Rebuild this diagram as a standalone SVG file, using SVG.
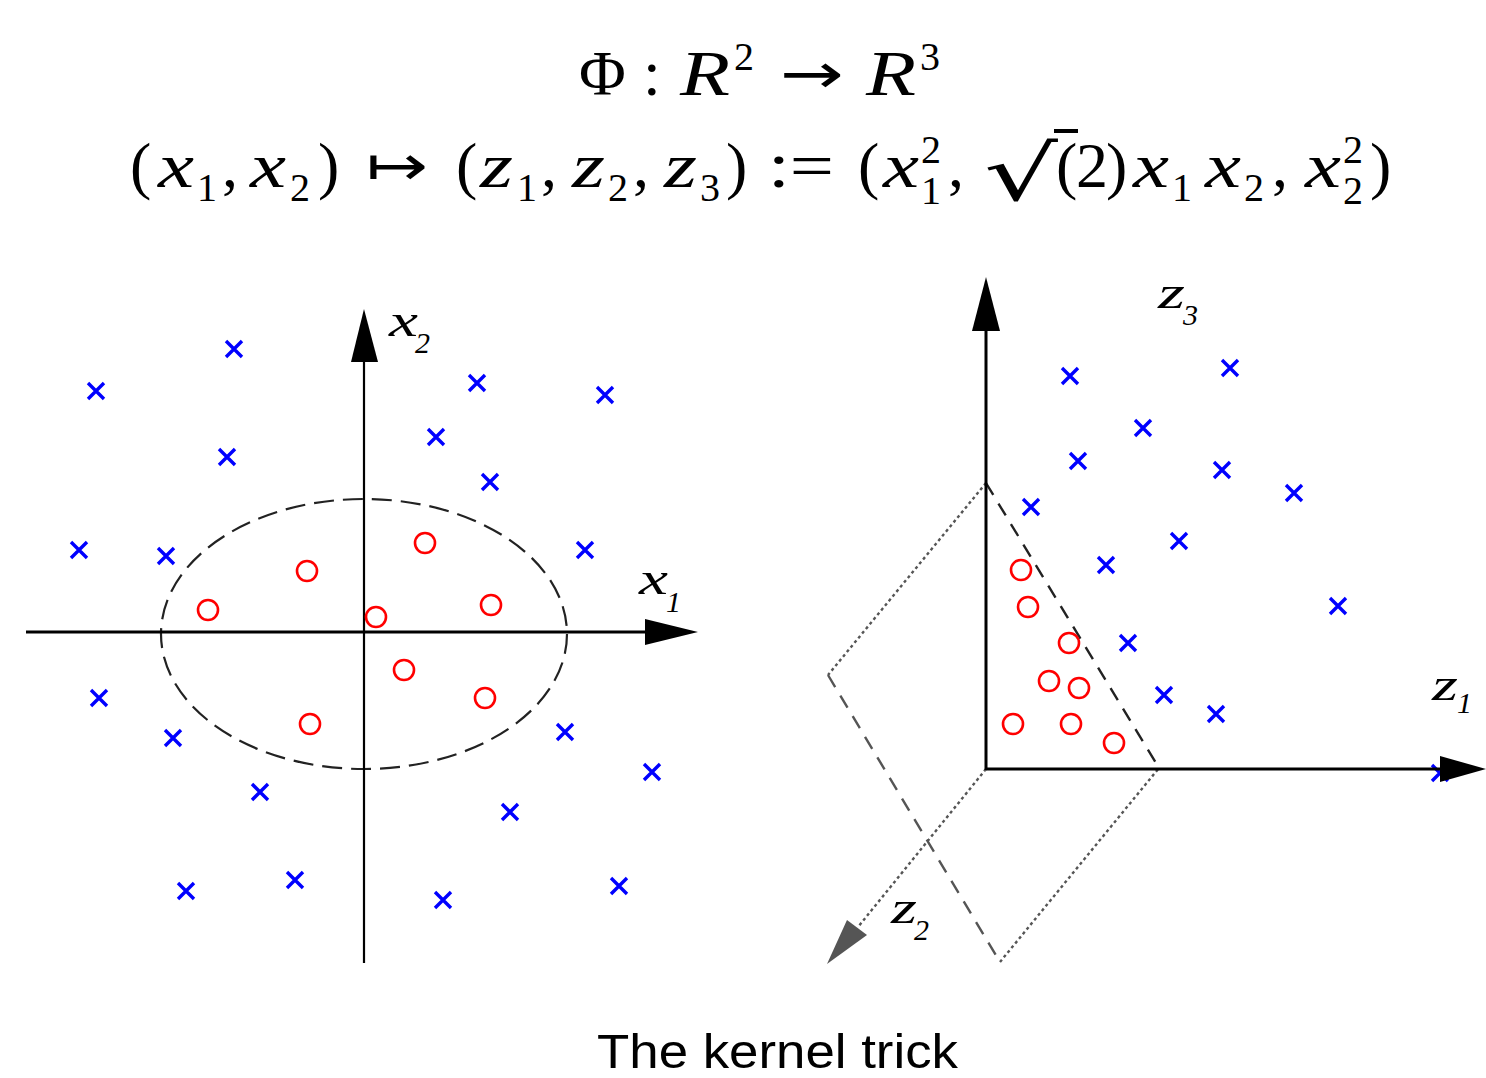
<svg xmlns="http://www.w3.org/2000/svg" xmlns:xlink="http://www.w3.org/1999/xlink" width="1486" height="1078" viewBox="0 0 1486 1078">
<style>
.m{font-family:"Liberation Serif","DejaVu Serif",serif;font-size:64px;fill:#000}
.i{font-style:italic}
.s{font-family:"Liberation Serif","DejaVu Serif",serif;font-size:40px;fill:#000}
.sym{font-family:"DejaVu Sans","Liberation Serif",serif;fill:#000}
.ax{font-family:"Liberation Serif","DejaVu Serif",serif;font-style:italic;fill:#000}
.cap{font-family:"Liberation Sans",Arial,sans-serif;font-size:48px;fill:#000}
.blue{stroke:#0000ff;stroke-width:3.4;fill:none}
.red{stroke:#ff0000;stroke-width:2.6;fill:none}
.axis{stroke:#000;fill:none}
.dot{stroke:#555;stroke-width:2.4;stroke-dasharray:3 3;fill:none}
</style>
<defs>
<path id="x" d="M-8,-8 L8,8 M-8,8 L8,-8" class="blue"/>
<circle id="o" r="10" class="red"/>
</defs>

<g id="formula">
<text class="m" x="579" y="95">Φ</text>
<text class="m" x="643" y="95">:</text>
<text class="m i" x="680" y="95" textLength="50" lengthAdjust="spacingAndGlyphs">R</text>
<text class="s" x="734" y="70">2</text>
<text class="sym" x="780" y="93" font-size="56" textLength="64" lengthAdjust="spacingAndGlyphs">→</text>
<text class="m i" x="866" y="95" textLength="50" lengthAdjust="spacingAndGlyphs">R</text>
<text class="s" x="920" y="70">3</text>

<text class="m" x="130" y="187">(</text>
<text class="m i" x="158" y="187" textLength="36" lengthAdjust="spacingAndGlyphs">x</text>
<text class="s" x="197" y="201">1</text>
<text class="m" x="222" y="187">,</text>
<text class="m i" x="250" y="187" textLength="36" lengthAdjust="spacingAndGlyphs">x</text>
<text class="s" x="290" y="201">2</text>
<text class="m" x="318" y="187">)</text>
<text class="sym" x="366" y="185" font-size="56" textLength="62" lengthAdjust="spacingAndGlyphs">↦</text>
<text class="m" x="456" y="187">(</text>
<text class="m i" x="480" y="187" textLength="33" lengthAdjust="spacingAndGlyphs">z</text>
<text class="s" x="517" y="201">1</text>
<text class="m" x="541" y="187">,</text>
<text class="m i" x="572" y="187" textLength="33" lengthAdjust="spacingAndGlyphs">z</text>
<text class="s" x="608" y="201">2</text>
<text class="m" x="633" y="187">,</text>
<text class="m i" x="664" y="187" textLength="33" lengthAdjust="spacingAndGlyphs">z</text>
<text class="s" x="700" y="201">3</text>
<text class="m" x="726" y="187">)</text>
<text class="m" x="768" y="187" textLength="66" lengthAdjust="spacingAndGlyphs">:=</text>
<text class="m" x="858" y="187">(</text>
<text class="m i" x="883" y="187" textLength="36" lengthAdjust="spacingAndGlyphs">x</text>
<text class="s" x="921" y="163">2</text>
<text class="s" x="921" y="204">1</text>
<text class="m" x="948" y="187">,</text>
<text class="sym" x="984" y="200" font-size="76" textLength="74" lengthAdjust="spacingAndGlyphs">√</text>
<line x1="1054" y1="131" x2="1078" y2="131" stroke="#000" stroke-width="4"/>
<text class="m" x="1056" y="187">(</text>
<text class="m" x="1076" y="187">2</text>
<text class="m" x="1106" y="187">)</text>
<text class="m i" x="1133" y="187" textLength="36" lengthAdjust="spacingAndGlyphs">x</text>
<text class="s" x="1172" y="201">1</text>
<text class="m i" x="1205" y="187" textLength="36" lengthAdjust="spacingAndGlyphs">x</text>
<text class="s" x="1244" y="201">2</text>
<text class="m" x="1272" y="187">,</text>
<text class="m i" x="1305" y="187" textLength="36" lengthAdjust="spacingAndGlyphs">x</text>
<text class="s" x="1343" y="163">2</text>
<text class="s" x="1343" y="204">2</text>
<text class="m" x="1370" y="187">)</text>
</g>

<g id="left-plot">
<ellipse cx="364" cy="634" rx="203" ry="135" fill="none" stroke="#222" stroke-width="2.2" stroke-dasharray="20 9"/>
<line class="axis" x1="26" y1="632" x2="648" y2="632" stroke-width="3"/>
<polygon points="645,619 698,632 645,645" fill="#000"/>
<line class="axis" x1="364" y1="963" x2="364" y2="358" stroke-width="2.2"/>
<polygon points="351,362 364,309 378,362" fill="#000"/>
<text class="ax" x="389" y="336" font-size="46" textLength="29" lengthAdjust="spacingAndGlyphs">x</text>
<text class="ax" x="415" y="353" font-size="30" font-style="normal">2</text>
<text class="ax" x="639" y="594" font-size="46" textLength="29" lengthAdjust="spacingAndGlyphs">x</text>
<text class="ax" x="666" y="612" font-size="30">1</text>
<g id="left-x">
<use href="#x" x="234" y="349"/><use href="#x" x="96" y="391"/><use href="#x" x="477" y="383"/><use href="#x" x="605" y="395"/>
<use href="#x" x="436" y="437"/><use href="#x" x="227" y="457"/><use href="#x" x="490" y="482"/><use href="#x" x="79" y="550"/>
<use href="#x" x="166" y="556"/><use href="#x" x="585" y="550"/><use href="#x" x="99" y="698"/><use href="#x" x="173" y="738"/>
<use href="#x" x="565" y="732"/><use href="#x" x="652" y="772"/><use href="#x" x="260" y="792"/><use href="#x" x="510" y="812"/>
<use href="#x" x="186" y="891"/><use href="#x" x="295" y="880"/><use href="#x" x="443" y="900"/><use href="#x" x="619" y="886"/>
</g>
<g id="left-o">
<use href="#o" x="307" y="571"/><use href="#o" x="425" y="543"/><use href="#o" x="208" y="610"/><use href="#o" x="376" y="617"/>
<use href="#o" x="491" y="605"/><use href="#o" x="404" y="670"/><use href="#o" x="485" y="698"/><use href="#o" x="310" y="724"/>
</g>
</g>

<g id="right-plot">
<g id="plane">
<line class="dot" x1="986" y1="483" x2="828" y2="675"/>
<line x1="828" y1="675" x2="1000" y2="962" stroke="#555" stroke-width="2.4" stroke-dasharray="14 10"/>
<line class="dot" x1="1000" y1="962" x2="1159" y2="768"/>
<line x1="986" y1="483" x2="1159" y2="768" stroke="#222" stroke-width="2.4" stroke-dasharray="14 10"/>
</g>
<line class="dot" x1="986" y1="769" x2="858" y2="927"/>
<polygon points="827,964 847,920 867,935" fill="#555"/>
<g id="right-x">
<use href="#x" x="1070" y="376"/><use href="#x" x="1230" y="368"/><use href="#x" x="1143" y="428"/><use href="#x" x="1078" y="461"/>
<use href="#x" x="1222" y="470"/><use href="#x" x="1294" y="493"/><use href="#x" x="1031" y="507"/><use href="#x" x="1179" y="541"/>
<use href="#x" x="1106" y="565"/><use href="#x" x="1338" y="606"/><use href="#x" x="1128" y="643"/><use href="#x" x="1164" y="695"/>
<use href="#x" x="1216" y="714"/><use href="#x" x="1440" y="773"/>
</g>
<g id="right-o">
<use href="#o" x="1021" y="570"/><use href="#o" x="1028" y="607"/><use href="#o" x="1069" y="643"/><use href="#o" x="1049" y="681"/>
<use href="#o" x="1079" y="688"/><use href="#o" x="1013" y="724"/><use href="#o" x="1071" y="724"/><use href="#o" x="1114" y="743"/>
</g>
<line class="axis" x1="986" y1="770" x2="986" y2="326" stroke-width="3"/>
<polygon points="972,331 986,277 1000,331" fill="#000"/>
<line class="axis" x1="986" y1="769" x2="1444" y2="769" stroke-width="3"/>
<polygon points="1440,756 1486,769 1440,782" fill="#000"/>
<text class="ax" x="1158" y="308" font-size="46" textLength="27" lengthAdjust="spacingAndGlyphs">z</text>
<text class="ax" x="1183" y="325" font-size="30">3</text>
<text class="ax" x="1432" y="700" font-size="46" textLength="26" lengthAdjust="spacingAndGlyphs">z</text>
<text class="ax" x="1457" y="713" font-size="30">1</text>
<text class="ax" x="891" y="923" font-size="46" fill="#555" textLength="26" lengthAdjust="spacingAndGlyphs">z</text>
<text class="ax" x="914" y="940" font-size="30" fill="#555" font-style="normal">2</text>
</g>

<text class="cap" x="597" y="1068" textLength="361" lengthAdjust="spacingAndGlyphs">The kernel trick</text>
</svg>
